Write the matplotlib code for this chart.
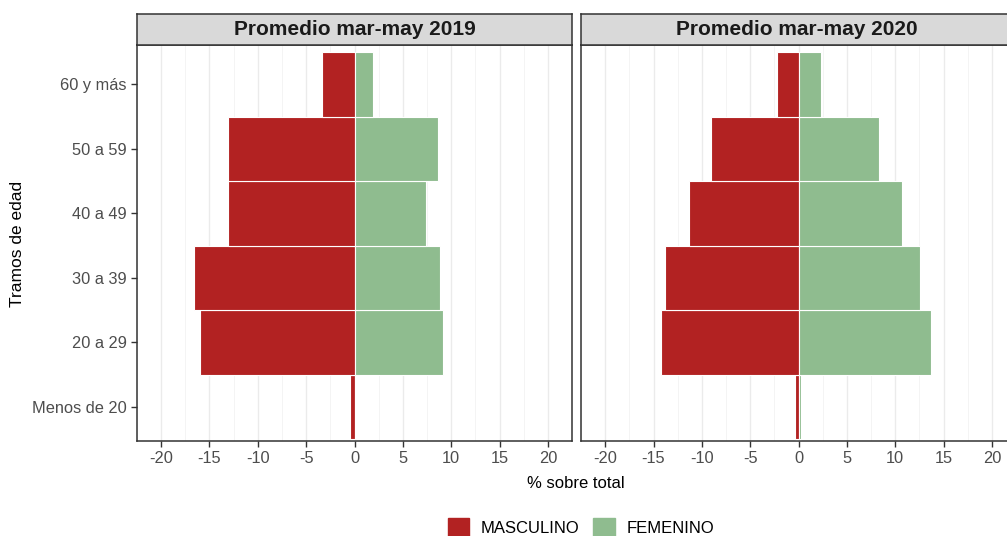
import numpy as np
import matplotlib
matplotlib.use("Agg")
import matplotlib.pyplot as plt

# datos: % sobre total por tramo de edad
tramos = ["Menos de 20", "20 a 29", "30 a 39", "40 a 49", "50 a 59", "60 y más"]
periodos = ["Promedio mar-may 2019", "Promedio mar-may 2020"]
masculino_2019 = [0.45, 16.0, 16.6, 13.1, 13.1, 3.4]
femenino_2019 = [0.15, 9.15, 8.85, 7.4, 8.6, 1.9]
masculino_2020 = [0.4, 14.2, 13.85, 11.35, 9.1, 2.2]
femenino_2020 = [0.3, 13.7, 12.6, 10.7, 8.3, 2.3]
x_ticks = [-20, -15, -10, -5, 0, 5, 10, 15, 20]

COL_M = "#B22222"
COL_F = "#8FBC8F"
W, H = 1007, 536

plt.rcParams['font.family'] = ['Liberation Sans', 'DejaVu Sans']

fig = plt.figure(figsize=(W / 100, H / 100), dpi=100)


def px_axes(left, top, right, bottom):
    return fig.add_axes([left / W, 1 - bottom / H, (right - left) / W, (bottom - top) / H])


paneles = [(137, 572), (581, 1016)]
datos = [(masculino_2019, femenino_2019), (masculino_2020, femenino_2020)]
y = np.arange(len(tramos))

for i, ((l, r), (masc, fem)) in enumerate(zip(paneles, datos)):
    ax = px_axes(l, 45, r, 441)
    ax.barh(y, -np.array(masc), height=1.0, color=COL_M, edgecolor="white", linewidth=0.8, zorder=3)
    ax.barh(y, fem, height=1.0, color=COL_F, edgecolor="white", linewidth=0.8, zorder=3)
    ax.set_xlim(-22, 22)
    ax.set_ylim(-0.53, 5.61)
    ax.set_xticks(x_ticks)
    ax.set_xticks(np.arange(-22.5, 22.6, 2.5), minor=True)
    ax.grid(axis="x", which="major", color="#EBEBEB", linewidth=1.0, zorder=0)
    ax.grid(axis="x", which="minor", color="#F2F2F2", linewidth=0.6, zorder=0)
    ax.tick_params(axis="x", which="minor", length=0)
    ax.tick_params(axis="both", which="major", length=4, width=1, color="#333333",
                   labelcolor="#4D4D4D", labelsize=11.8)
    ax.set_xticklabels([str(t) for t in x_ticks])
    ax.set_yticks(y)
    if i == 0:
        ax.set_yticklabels(tramos)
    else:
        ax.set_yticklabels([])
        ax.tick_params(axis="y", length=0)
    for s in ax.spines.values():
        s.set_color("#333333")
        s.set_linewidth(1.1)

    # franja del panel
    sa = px_axes(l, 14, r, 45)
    sa.set_facecolor("#D9D9D9")
    sa.set_xticks([])
    sa.set_yticks([])
    for s in sa.spines.values():
        s.set_color("#333333")
        s.set_linewidth(1.1)
    sa.text(0.5 if i == 0 else (797 - l) / (r - l), 0.5, periodos[i], transform=sa.transAxes,
            ha="center", va="center", fontsize=15, fontweight="bold", color="#1A1A1A")

fig.text(18 / W, 1 - 244 / H, "Tramos de edad", rotation=90, ha="center", va="center", fontsize=12.5)
fig.text(576 / W, 1 - 483 / H, "% sobre total", ha="center", va="center", fontsize=12)

# leyenda
handles = [plt.Rectangle((0, 0), 1, 1, color=COL_M), plt.Rectangle((0, 0), 1, 1, color=COL_F)]
fig.legend(handles, ["MASCULINO", "FEMENINO"], loc="center", bbox_to_anchor=(581 / W, 1 - 527 / H),
           ncol=2, frameon=False, fontsize=12, handlelength=1.3, handleheight=1.3,
           handletextpad=0.7, columnspacing=0.8)

fig.savefig("out.png", dpi=100)
